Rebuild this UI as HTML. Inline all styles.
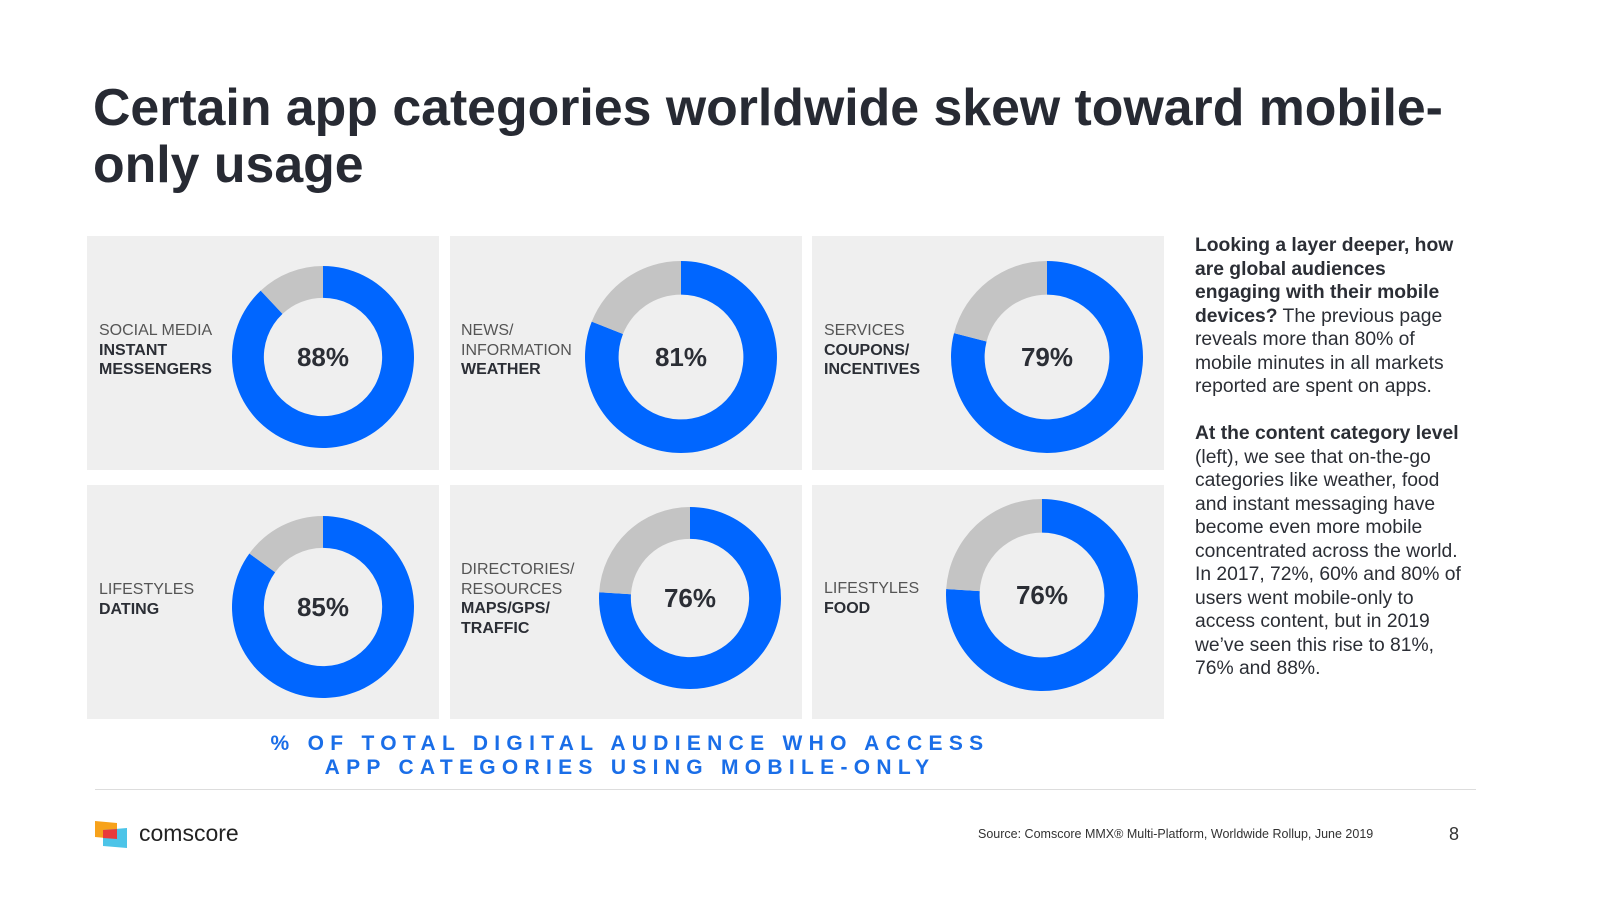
<!DOCTYPE html>
<html><head><meta charset="utf-8"><style>
body{margin:0;width:1600px;height:900px;background:#fff;font-family:"Liberation Sans",sans-serif;position:relative;overflow:hidden;color:#2b2e35}
.abs{position:absolute}
h1{position:absolute;left:93px;top:79px;margin:0;font-size:51.8px;line-height:57px;font-weight:bold;color:#272a33;width:1480px}
.panel{position:absolute;background:#efefef;width:352px;height:234px}
.lab{position:absolute;font-size:16px;line-height:19.5px;color:#555}
.lab b{color:#2b2e35}
.side{position:absolute;left:1195px;top:234px;width:276px;font-size:19.3px;line-height:23.5px;color:#2b2e35}
.cap{position:absolute;left:150px;width:960px;text-align:center;color:#1a6ee8;font-weight:bold;font-size:21px;letter-spacing:6.3px}
</style></head><body>
<h1>Certain app categories worldwide skew toward mobile-<br>only usage</h1>

<div class="panel" style="left:87px;top:236px"></div>
<div class="panel" style="left:450px;top:236px"></div>
<div class="panel" style="left:812px;top:236px"></div>
<div class="panel" style="left:87px;top:485px"></div>
<div class="panel" style="left:450px;top:485px"></div>
<div class="panel" style="left:812px;top:485px"></div>

<div class="lab" style="left:99px;top:321px">SOCIAL MEDIA<br><b>INSTANT<br>MESSENGERS</b></div>
<div class="lab" style="left:461px;top:321px">NEWS/<br>INFORMATION<br><b>WEATHER</b></div>
<div class="lab" style="left:824px;top:321px">SERVICES<br><b>COUPONS/<br>INCENTIVES</b></div>
<div class="lab" style="left:99px;top:580px">LIFESTYLES<br><b>DATING</b></div>
<div class="lab" style="left:461px;top:560px">DIRECTORIES/<br>RESOURCES<br><b>MAPS/GPS/<br>TRAFFIC</b></div>
<div class="lab" style="left:824px;top:579px">LIFESTYLES<br><b>FOOD</b></div>

<svg id="chart" class="abs" style="left:0;top:0" width="1600" height="900"></svg>

<div class="cap" style="top:732px">% OF TOTAL DIGITAL AUDIENCE WHO ACCESS<br>APP CATEGORIES USING MOBILE-ONLY</div>

<div class="side"><b>Looking a layer deeper, how are global audiences engaging with their mobile devices?</b> The previous page reveals more than 80% of mobile minutes in all markets reported are spent on apps.<br><br><b>At the content category level</b> (left), we see that on-the-go categories like weather, food and instant messaging have become even more mobile concentrated across the world. In 2017, 72%, 60% and 80% of users went mobile-only to access content, but in 2019 we’ve seen this rise to 81%, 76% and 88%.</div>

<div class="abs" style="left:95px;top:789px;width:1381px;height:1px;background:#ddd"></div>
<svg class="abs" style="left:95px;top:821px" width="34" height="28">
<polygon points="0,0 22,2 22,18 0,16" fill="#f7a21b"/><polygon points="8,9 32,7 32,27 8,25" fill="#4cc4e8"/><polygon points="8,9 22,8 22,18 8,17" fill="#e83b3b"/></svg>
<div class="abs" style="left:139px;top:820px;font-size:23px;color:#222">comscore</div>
<div class="abs" style="left:978px;top:827px;font-size:12.5px;color:#333">Source: Comscore MMX® Multi-Platform, Worldwide Rollup, June 2019</div>
<div class="abs" style="left:1449px;top:824px;font-size:18px;color:#333">8</div>

<script>
const categories = ["Instant Messengers","Weather","Coupons/Incentives","Dating","Maps/GPS/Traffic","Food"];
const values = [88,81,79,85,76,76];
const labels = ["88%","81%","79%","85%","76%","76%"];
const layout = [[323,357,91],[681,357,96],[1047,357,96],[323,607,91],[690,598,91],[1042,595,96]];
const svg = document.getElementById('chart');
const NS = 'http://www.w3.org/2000/svg';
function pt(cx,cy,r,f){const a=f*2*Math.PI;return [cx+r*Math.sin(a),cy-r*Math.cos(a)];}
function arc(cx,cy,ro,ri,f0,f1){
  const lg=(f1-f0)>0.5?1:0;
  const [x0,y0]=pt(cx,cy,ro,f0),[x1,y1]=pt(cx,cy,ro,f1),[x2,y2]=pt(cx,cy,ri,f1),[x3,y3]=pt(cx,cy,ri,f0);
  return `M${x0},${y0}A${ro},${ro} 0 ${lg} 1 ${x1},${y1}L${x2},${y2}A${ri},${ri} 0 ${lg} 0 ${x3},${y3}Z`;
}
values.forEach((v,i)=>{
  const [cx,cy,ro]=layout[i]; const ri=ro*0.65; const f=v/100;
  const b=document.createElementNS(NS,'path');
  b.setAttribute('d',arc(cx,cy,ro,ri,0,f));b.setAttribute('fill','#0066ff');
  
  
  svg.appendChild(b);
  const g=document.createElementNS(NS,'path');
  g.setAttribute('d',arc(cx,cy,ro,ri,f,1));g.setAttribute('fill','#c4c4c4');
  
  
  svg.appendChild(g);
  const t=document.createElementNS(NS,'text');
  t.setAttribute('x',cx);t.setAttribute('y',cy+9);t.setAttribute('text-anchor','middle');
  t.setAttribute('font-family','Liberation Sans, sans-serif');t.setAttribute('font-weight','bold');
  t.setAttribute('font-size','26');t.setAttribute('fill','#2b2e35');t.textContent=labels[i];
  
  
  svg.appendChild(t);
});
</script>
</body></html>
